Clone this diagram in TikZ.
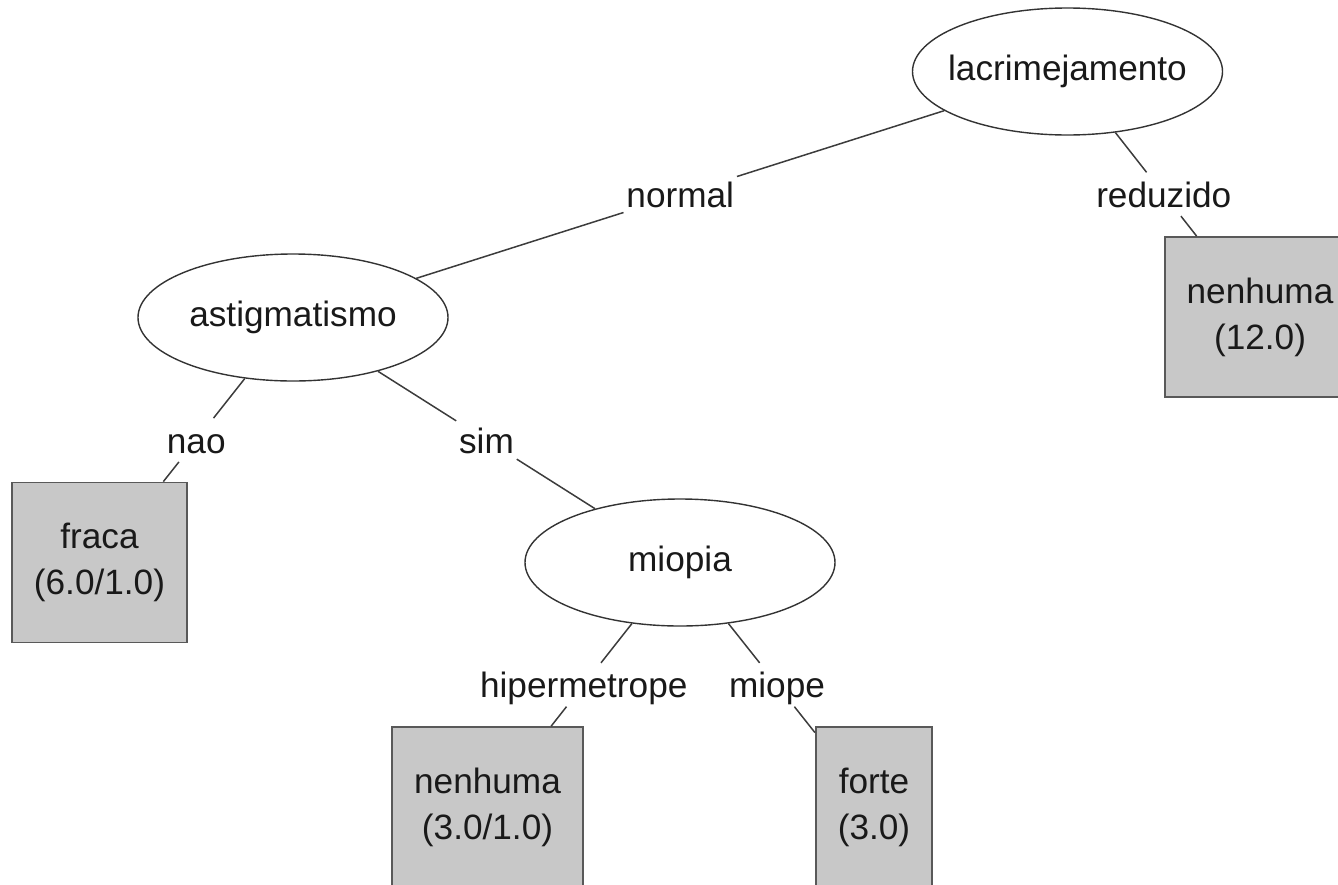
\documentclass[tikz,border=0pt]{standalone}
\usepackage{fontspec}
\setmainfont{Liberation Sans}
\usetikzlibrary{shapes}

\definecolor{leafgray}{HTML}{C8C8C8}
\definecolor{linegray}{HTML}{3C3C3C}

\begin{document}
\begin{tikzpicture}[x=0.5pt, y=-0.5pt,
                    font=\fontsize{17.6pt}{23pt}\selectfont,
                    text=black!90]
                \tikzstyle{test}=[ellipse,
                                draw=black!80,
                                line width=0.7pt,
                                minimum width=155pt,
                                minimum height=63.5pt,
                                inner xsep=-5pt,
                                inner ysep=0pt]
                \tikzstyle{leaf}=[rectangle,
                                draw=black!65,
                                line width=0.9pt,
                                fill=leafgray,
                                align=center,
                                minimum height=80pt,
                                inner xsep=11pt,
                                inner ysep=0pt]
                \tikzstyle{branch}=[inner sep=1.25pt,
                                text height=16pt,
                                text depth=3pt]
                \tikzstyle{edge}=[draw=linegray, line width=0.75pt]

                \useasboundingbox (0,0) rectangle (1338,884);

                \node[test] (lacrimejamento) at (1067.5,71.5) {lacrimejamento};
                \node[test] (astigmatismo) at (293,317.5) {astigmatismo};
                \node[test] (miopia) at (680,562.5) {miopia};

                \node[leaf] (nenhumaA) at (1260,317) {nenhuma\\(12.0)};
                \node[leaf] (fraca) at (99.5,562.5) {fraca\\(6.0/1.0)};
                \node[leaf] (nenhumaB) at (487.5,807) {nenhuma\\(3.0/1.0)};
                \node[leaf] (forte) at (874,807) {forte\\(3.0)};

                % branch labels, half way between the two node centres
                \path (astigmatismo.center) -- node[branch] (normal) {normal} (lacrimejamento.center);
                \path (lacrimejamento.center) -- node[branch] (reduzido) {reduzido} (nenhumaA.center);
                \path (astigmatismo.center) -- node[branch] (nao) {nao} (fraca.center);
                \path (astigmatismo.center) -- node[branch] (sim) {sim} (miopia.center);
                \path (miopia.center) -- node[branch] (hipermetrope) {hipermetrope} (nenhumaB.center);
                \path (miopia.center) -- node[branch] (miope) {miope} (forte.center);

                \draw[edge] (lacrimejamento) -- (normal) -- (astigmatismo);
                \draw[edge] (lacrimejamento) -- (reduzido) -- (nenhumaA);
                \draw[edge] (astigmatismo) -- (nao) -- (fraca);
                \draw[edge] (astigmatismo) -- (sim) -- (miopia);
                \draw[edge] (miopia) -- (hipermetrope) -- (nenhumaB);
                \draw[edge] (miopia) -- (miope) -- (forte);
            \end{tikzpicture}
\end{document}
